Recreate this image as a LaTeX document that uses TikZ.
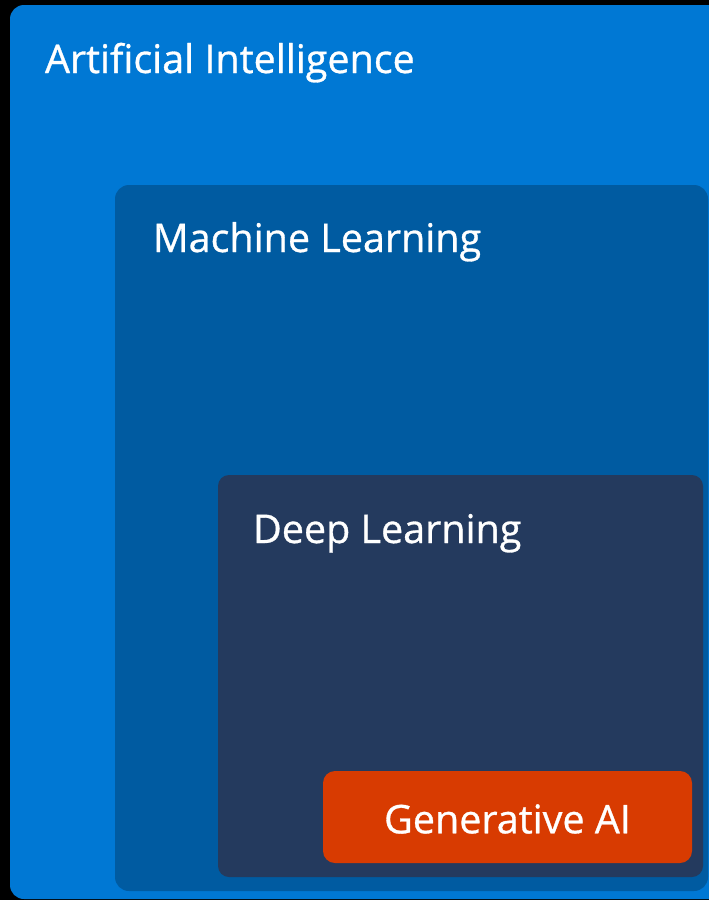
\documentclass[tikz,border=0pt]{standalone}
\usepackage{fontspec}
\setmainfont{Open Sans}
\newfontfamily\titlefont[FakeBold=0.8]{Open Sans}
\definecolor{aiblue}{HTML}{0078D4}
\definecolor{mlblue}{HTML}{005BA1}
\definecolor{dlnavy}{HTML}{243A5E}
\definecolor{genorange}{HTML}{D83B01}

\begin{document}
\begin{tikzpicture}[x=1pt, y=-1pt,
  every node/.style = {inner sep=0pt, outer sep=0pt, text=white,
    font=\titlefont\fontsize{39.5}{44}\selectfont},
  box/.style = {shape=rectangle, rounded corners=14pt, anchor=north west},
  boxtitle/.style = {anchor=base west}]
  \useasboundingbox[fill=black] (0,0) rectangle (709,900);
  \clip (0,0) rectangle (709,900);
  \node[box, fill=aiblue, minimum width=760pt, minimum height=894pt] (ai) at (10,5) {};
  \node[box, fill=mlblue, minimum width=593pt, minimum height=706pt] (ml) at (115,185) {};
  \node[box, fill=dlnavy, rounded corners=11pt, minimum width=485pt, minimum height=402pt] (dl) at (218,475) {};
  \node[box, fill=genorange, rounded corners=12pt, minimum width=369pt, minimum height=92pt] (gen) at (323,771) {};
  \node[boxtitle] (aititle) at (45,73) {Artificial Intelligence};
  \node[boxtitle] (mltitle) at (153,252) {Machine Learning};
  \node[boxtitle] (dltitle) at (253,543) {Deep Learning};
  \node (gentitle) at ([yshift=-2pt]gen.center) {Generative AI};
\end{tikzpicture}
\end{document}
